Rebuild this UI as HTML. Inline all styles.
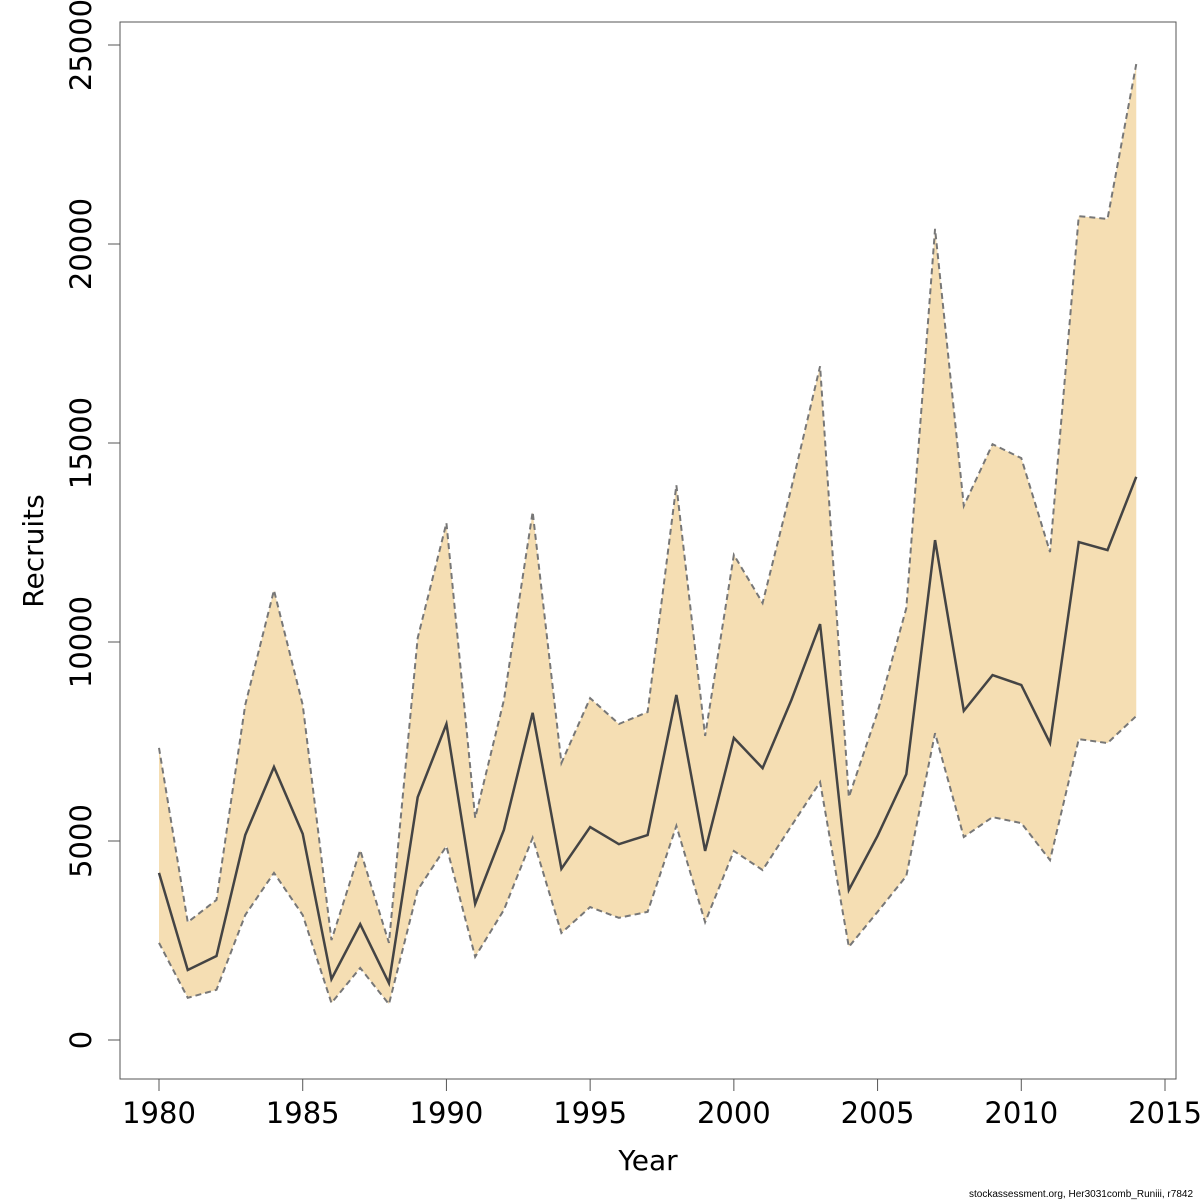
<!DOCTYPE html>
<html><head><meta charset="utf-8"><style>
body{margin:0;background:#fff}
svg{display:block;font-family:"DejaVu Sans","Liberation Sans",sans-serif}
</style></head><body>
<svg id="c" width="1200" height="1200">
<g id="plot"></g>
<rect x="120" y="22" width="1056" height="1057" fill="none" stroke="#555" stroke-width="1"/>
<g id="axes"></g>
<text x="648" y="1170" font-size="28" text-anchor="middle">Year</text>
<text transform="translate(43,551) rotate(-90)" font-size="28" text-anchor="middle">Recruits</text>
<text x="1193" y="1197" font-size="10" text-anchor="end" font-family="Liberation Sans, sans-serif">stockassessment.org, Her3031comb_Runiii, r7842</text>
</svg>
<script>
const years=[1980,1981,1982,1983,1984,1985,1986,1987,1988,1989,1990,1991,1992,1993,1994,1995,1996,1997,1998,1999,2000,2001,2002,2003,2004,2005,2006,2007,2008,2009,2010,2011,2012,2013,2014];
const mid=[4200,1760,2110,5150,6860,5180,1530,2910,1430,6100,7940,3420,5280,8220,4300,5350,4920,5150,8670,4750,7590,6830,8540,10450,3770,5130,6680,12560,8270,9170,8920,7460,12510,12310,14150];
const upper=[7340,2960,3520,8420,11300,8420,2510,4770,2440,10100,12990,5580,8540,13270,6960,8590,7940,8240,13940,7640,12190,10980,13870,16930,6100,8240,10850,20380,13420,14970,14620,12260,20700,20630,24520];
const lower=[2440,1060,1260,3140,4200,3140,930,1810,900,3770,4870,2090,3270,5080,2690,3340,3070,3220,5380,2960,4750,4270,5380,6480,2340,3220,4120,7710,5100,5600,5450,4520,7560,7460,8140];
const xTicks=[1980,1985,1990,1995,2000,2005,2010,2015];
const yTicks=[0,5000,10000,15000,20000,25000];
const X=v=>159+(v-1980)*(1165-159)/35;
const Y=v=>1040-v*(1040-45)/25000;
const NS='http://www.w3.org/2000/svg';
function mk(tag,attrs,parent){const e=document.createElementNS(NS,tag);for(const k in attrs)e.setAttribute(k,attrs[k]);parent.appendChild(e);return e;}
const plot=document.getElementById('plot'),axes=document.getElementById('axes');
const up=years.map((y,i)=>X(y)+','+Y(upper[i]));
const lo=years.map((y,i)=>X(y)+','+Y(lower[i])).reverse();
let band=mk('polygon',{points:up.concat(lo).join(' '),fill:'#f5deb3',stroke:'none'},plot);


let ul=mk('polyline',{points:up.join(' '),fill:'none',stroke:'#777','stroke-width':2,'stroke-dasharray':'6,4'},plot);


let ll=mk('polyline',{points:years.map((y,i)=>X(y)+','+Y(lower[i])).join(' '),fill:'none',stroke:'#777','stroke-width':2,'stroke-dasharray':'6,4'},plot);


let ml=mk('polyline',{points:years.map((y,i)=>X(y)+','+Y(mid[i])).join(' '),fill:'none',stroke:'#444','stroke-width':2.5},plot);


mk('line',{x1:X(1980),x2:X(2015),y1:1079,y2:1079,stroke:'#555'},axes);
mk('line',{x1:120,x2:120,y1:Y(0),y2:Y(25000),stroke:'#555'},axes);
xTicks.forEach(t=>{
 mk('line',{x1:X(t),x2:X(t),y1:1079,y2:1091,stroke:'#555'},axes);
 let tx=mk('text',{x:X(t),y:1123,'font-size':29,'text-anchor':'middle'},axes);tx.textContent=t;
 
 
});
yTicks.forEach(t=>{
 mk('line',{x1:108,x2:120,y1:Y(t),y2:Y(t),stroke:'#555'},axes);
 let tx=mk('text',{transform:`translate(91,${Y(t)}) rotate(-90)`,'font-size':29,'text-anchor':'middle'},axes);tx.textContent=t;
 
 
});
</script>
</body></html>
